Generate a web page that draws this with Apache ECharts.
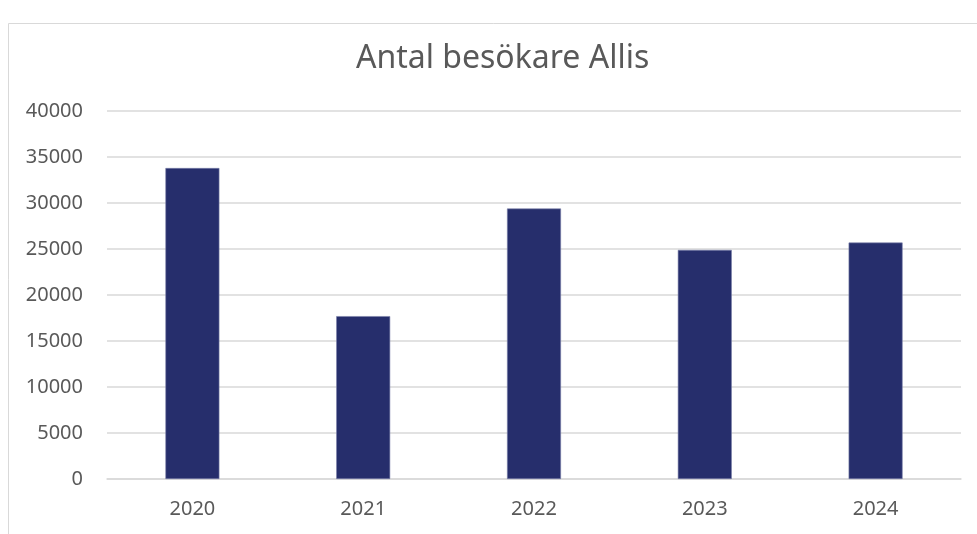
<!DOCTYPE html>
<html>
<head>
<meta charset="utf-8">
<script src="https://cdn.jsdelivr.net/npm/echarts@6/dist/echarts.min.js"></script>
<style>html,body{margin:0;padding:0;background:#fff}#c{width:977px;height:534px}</style>
</head>
<body>
<div id="c"></div>
<script>
const categories = ['2020', '2021', '2022', '2023', '2024'];
const visitors = [33800, 17700, 29400, 24900, 25700];
const yTicks = [0, 5000, 10000, 15000, 20000, 25000, 30000, 35000, 40000];

const chart = echarts.init(document.getElementById('c'), null, {renderer: 'canvas'});
chart.setOption({
  animation: false,
  backgroundColor: '#fff',
  title: {
    text: 'Antal besökare Allis',
    left: 351,
    top: 38,
    textStyle: {color: '#595959', fontSize: 32, fontWeight: 'normal', fontFamily: 'Noto Sans'}
  },
  graphic: [{
    type: 'rect',
    shape: {x: 8.5, y: 23.5, width: 1000, height: 600},
    style: {fill: 'none', stroke: '#d9d9d9', lineWidth: 1},
    silent: true
  }],
  grid: {left: 107, right: 16, top: 111, bottom: 55},
  xAxis: {
    type: 'category',
    data: categories,
    axisLine: {lineStyle: {color: '#d9d9d9', width: 1.5}},
    axisTick: {show: false},
    axisLabel: {color: '#595959', fontSize: 20, fontFamily: 'Noto Sans', margin: 20}
  },
  yAxis: {
    type: 'value',
    min: yTicks[0],
    max: yTicks[yTicks.length - 1],
    interval: 5000,
    axisLine: {show: false},
    axisTick: {show: false},
    splitLine: {lineStyle: {color: '#d9d9d9', width: 1.5}},
    axisLabel: {color: '#595959', fontSize: 20, fontFamily: 'Noto Sans', margin: 24,
      formatter: function (v) { return String(v); }}
  },
  series: [{
    type: 'bar',
    data: visitors,
    barWidth: '31.6%',
    itemStyle: {color: '#262e6c', borderColor: '#7a80aa', borderWidth: 0.6}
  }]
});
</script>
</body>
</html>
